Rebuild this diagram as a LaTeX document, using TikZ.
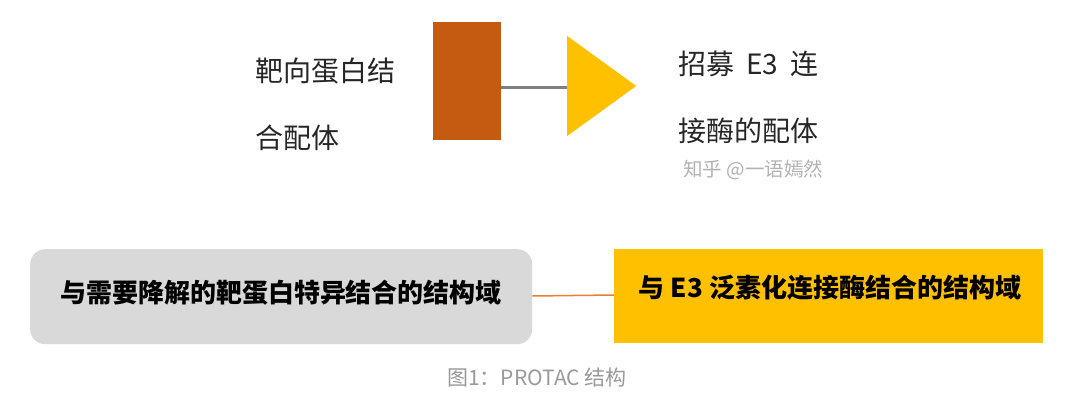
\documentclass[tikz,border=0pt]{standalone}
\usepackage{fontspec}
\setmainfont{Noto Sans CJK SC}
\usetikzlibrary{positioning,shapes.geometric}
\definecolor{rust}{HTML}{C55A11}
\definecolor{gold}{HTML}{FFC000}
\definecolor{lightgray}{HTML}{D9D9D9}
\definecolor{linkorange}{HTML}{ED7D31}

\begin{document}
\begin{tikzpicture}[x=1pt, y=-1pt,
  ligtext/.style={font=\fontsize{28}{67}\selectfont, text=black!85, align=left, inner sep=0pt, anchor=west},
  boxtext/.style={font=\fontsize{26}{30}\selectfont\bfseries, text=black, inner sep=0pt}]
  \useasboundingbox (0,0) rectangle (1080,401);

  \node[fill=rust, minimum width=68pt, minimum height=118pt, inner sep=0pt, anchor=north west] (ligA) at (433,22) {};
  \node[isosceles triangle, isosceles triangle stretches, fill=gold, minimum width=100pt, minimum height=69pt, inner sep=0pt, anchor=west] (ligB) at (567,86) {};
  \draw[gray, line width=3pt] (ligA.east |- 0,88) to (ligB.west |- 0,88);

  \node[ligtext] (txtA) at (255,104) {靶向蛋白结\\合配体};
  \node[ligtext] (txtB) at (678,97) {招募\hspace{6pt} E3\hspace{6pt} 连\\接酶的配体};
  \node[font=\fontsize{19.5}{20}\selectfont, text=black!30, anchor=west, inner sep=0pt] (mark) at (683,170) {知乎 @一语嫣然};

  \node[fill=lightgray, rounded corners=15pt, minimum width=502pt, minimum height=95pt, anchor=north west] (boxA) at (30,249) {};
  \node[boxtext] at (281,293) {与需要降解的靶蛋白特异结合的结构域};
  \node[fill=gold, minimum width=429pt, minimum height=94pt, anchor=north west] (boxB) at (614,249) {};
  \node[boxtext] at (830,288) {与 E3 泛素化连接酶结合的结构域};
  \draw[linkorange, line width=1.5pt] (boxA.east |- 0,296) to (boxB.west |- 0,295);

  \node[font=\fontsize{21}{24}\selectfont, text=black!40] (cap) at (537,378) {图1：PROTAC 结构};
\end{tikzpicture}
\end{document}
